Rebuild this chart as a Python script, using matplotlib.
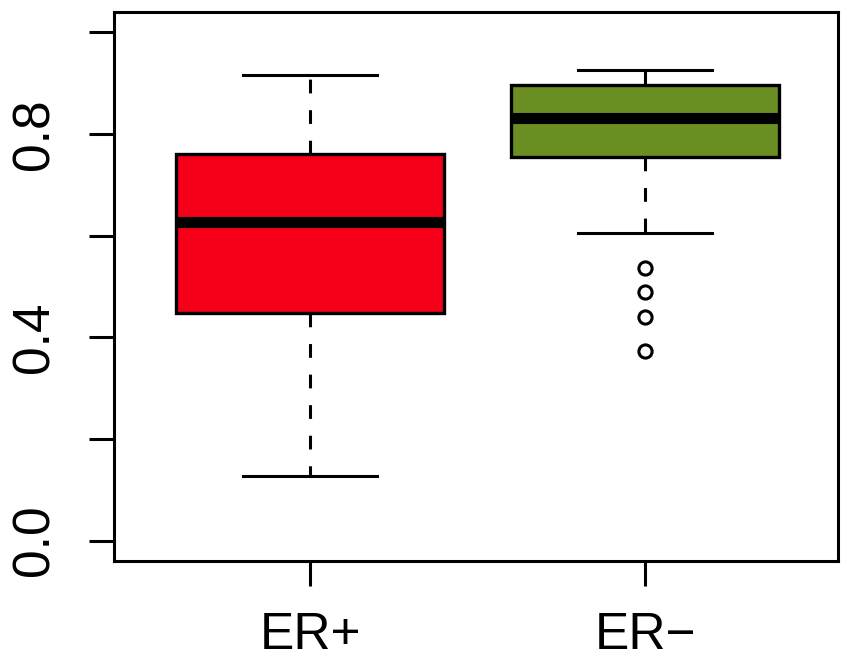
import matplotlib
matplotlib.use("Agg")
import matplotlib.pyplot as plt

categories = ["ER+", "ER\u2212"]
q1 = [0.4485, 0.7538]
med = [0.6273, 0.8324]
q3 = [0.7597, 0.8959]
whislo = [0.1277, 0.6045]
whishi = [0.9155, 0.9267]
fliers = [[], [0.5358, 0.4886, 0.4395, 0.3739]]
colors = ["#F50018", "#6B8E23"]
yticks = [0.0, 0.2, 0.4, 0.6, 0.8, 1.0]
ytick_labels = ["0.0", "", "0.4", "", "0.8", ""]

plt.rcParams['font.family'] = ['Liberation Sans', 'DejaVu Sans']

fig = plt.figure(figsize=(8.62, 6.59), dpi=100)
ax = fig.add_axes([114/862, 1 - 561/659, (838-114)/862, (561-12)/659])

stats = []
for i in range(len(categories)):
    stats.append(dict(q1=q1[i], med=med[i], q3=q3[i], whislo=whislo[i],
                      whishi=whishi[i], fliers=fliers[i], label=categories[i]))

bp = ax.bxp(stats, positions=[1, 2], widths=0.8, capwidths=0.4,
            patch_artist=True, showfliers=True,
            boxprops=dict(linewidth=2.4, edgecolor='black'),
            medianprops=dict(linewidth=8, color='black', solid_capstyle='butt'),
            whiskerprops=dict(linewidth=2.2, color='black', linestyle=(0, (4.5, 5.5))),
            capprops=dict(linewidth=2.2, color='black'),
            flierprops=dict(marker='o', markersize=9.5, markerfacecolor='none',
                            markeredgecolor='black', markeredgewidth=2.2))
for patch, c in zip(bp['boxes'], colors):
    patch.set_facecolor(c)

ax.set_xlim(0.415, 2.575)
ax.set_ylim(-0.04, 1.04)
ax.set_yticks(yticks)
ax.set_yticklabels(ytick_labels, rotation=90, va='center')
ax.set_xticks([1, 2])
ax.set_xticklabels(categories)
ax.tick_params(axis='both', length=18, width=2.2, labelsize=37, direction='out')
ax.tick_params(axis='y', pad=21)
ax.tick_params(axis='x', pad=18)
for s in ax.spines.values():
    s.set_linewidth(2.2)

fig.savefig("out.png", dpi=100)
